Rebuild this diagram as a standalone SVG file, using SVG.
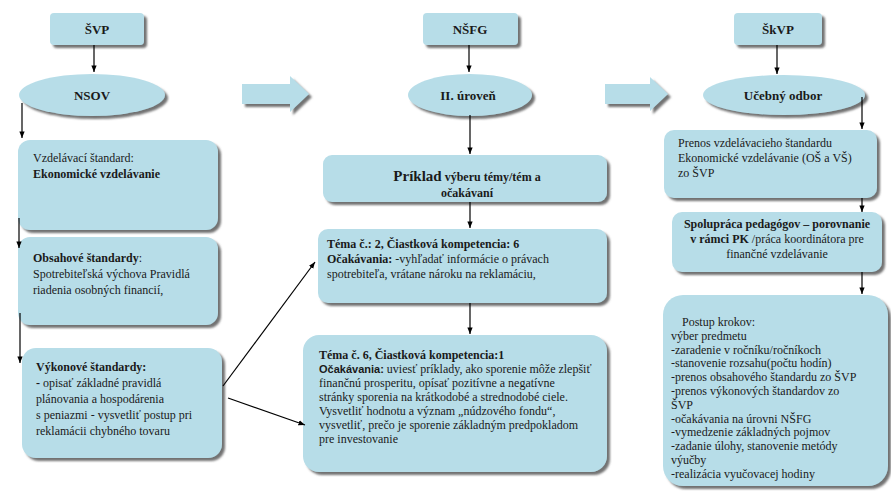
<svg xmlns="http://www.w3.org/2000/svg" width="891" height="494" viewBox="0 0 891 494">
<style>
.box{fill:#b7dde8;filter:url(#sh)}
.t{font-family:"Liberation Serif","Times New Roman",serif;font-size:12px;fill:#1a1a1a}
.h{font-family:"Liberation Serif","Times New Roman",serif;font-size:13px;font-weight:bold;fill:#1a1a1a}
.b{font-weight:bold}
.sb{font-family:"Liberation Sans",Arial,sans-serif;font-weight:bold;font-size:11px}
.c{stroke:#000;stroke-width:1.2;fill:none;marker-end:url(#ah)}
</style>
<defs>
<filter id="sh" x="-10%" y="-10%" width="130%" height="140%">
<feGaussianBlur in="SourceAlpha" stdDeviation="1"/>
<feOffset dx="3" dy="3" result="o"/>
<feFlood flood-color="#5a5a5a" flood-opacity="0.85"/>
<feComposite in2="o" operator="in"/>
<feMerge><feMergeNode/><feMergeNode in="SourceGraphic"/></feMerge>
</filter>
<marker id="ah" viewBox="0 0 10 10" refX="10" refY="5" markerWidth="5.5" markerHeight="5.5" orient="auto">
<path d="M0,1 L10,5 L0,9 z" fill="#000"/>
</marker>
</defs>
<rect width="891" height="494" fill="#fff"/>

<g id="arrow-big-1"><path class="box" d="M242,84 H290 V76 L309,94 L290,112 V104 H242 Z"/></g>
<g id="arrow-big-2"><path class="box" d="M605,84 H650 V77 L668,94 L650,111 V104 H605 Z"/></g>

<g id="svp"><rect class="box" x="50" y="13" width="94" height="32" rx="4"/><text class="h" x="97" y="34" text-anchor="middle">ŠVP</text></g>
<g id="nsov"><ellipse class="box" cx="92" cy="95" rx="73" ry="21"/><text class="h" x="92" y="100" text-anchor="middle">NSOV</text></g>
<g id="l1"><rect class="box" x="18" y="140" width="200" height="90" rx="12"/>
<text class="t" x="33" y="162">Vzdelávací štandard:</text>
<text class="t b" x="33" y="178">Ekonomické vzdelávanie</text></g>
<g id="l2"><rect class="box" x="18" y="237" width="200" height="88" rx="12"/>
<text class="t" x="33" y="262"><tspan class="b">Obsahové štandardy</tspan>:</text>
<text class="t" x="33" y="278">Spotrebiteľská výchova Pravidlá</text>
<text class="t" x="33" y="294">riadenia osobných financií,</text></g>
<g id="l3"><rect class="box" x="22" y="348" width="200" height="110" rx="14"/>
<text class="t b" x="36" y="371">Výkonové štandardy:</text>
<text class="t" x="36" y="387"><tspan class="b">-</tspan> opisať základné pravidlá</text>
<text class="t" x="36" y="403">plánovania a hospodárenia</text>
<text class="t" x="36" y="419">s peniazmi - vysvetliť postup pri</text>
<text class="t" x="36" y="435">reklamácii chybného tovaru</text></g>

<g id="nsfg"><rect class="box" x="423" y="13" width="95" height="32" rx="4"/><text class="h" x="470" y="34" text-anchor="middle">NŠFG</text></g>
<g id="uroven"><ellipse class="box" cx="470" cy="95" rx="62" ry="21"/><text class="h" x="468" y="100" text-anchor="middle">II. úroveň</text></g>
<g id="priklad"><rect class="box" x="323" y="155" width="284" height="47" rx="9"/>
<text class="t b" x="467" y="181" text-anchor="middle"><tspan font-size="15">Príklad</tspan> výberu témy/tém a</text>
<text class="t b" x="467" y="197" text-anchor="middle">očakávaní</text></g>
<g id="tema2"><rect class="box" x="318" y="229" width="289" height="74" rx="10"/>
<text class="t b" x="327" y="248">Téma č.: 2, Čiastková kompetencia: 6</text>
<text class="t" x="327" y="263"><tspan class="b">Očakávania:</tspan> -vyhľadať informácie o právach</text>
<text class="t" x="327" y="278">spotrebiteľa, vrátane nároku na reklamáciu,</text></g>
<g id="tema6"><rect class="box" x="303" y="335" width="304" height="137" rx="16"/>
<text class="t b" x="319" y="359">Téma č. 6, Čiastková kompetencia:1</text>
<text class="t" x="319" y="373"><tspan class="sb">Očakávania:</tspan> uviesť príklady, ako sporenie môže zlepšiť</text>
<text class="t" x="319" y="387">finančnú prosperitu, opísať pozitívne a negatívne</text>
<text class="t" x="319" y="401">stránky sporenia na krátkodobé a strednodobé ciele.</text>
<text class="t" x="319" y="415">Vysvetliť hodnotu a význam „núdzového fondu“,</text>
<text class="t" x="319" y="429">vysvetliť, prečo je sporenie základným predpokladom</text>
<text class="t" x="319" y="443">pre investovanie</text></g>

<g id="skvp"><rect class="box" x="734" y="13" width="88" height="32" rx="4"/><text class="h" x="778" y="34" text-anchor="middle">ŠkVP</text></g>
<g id="odbor"><ellipse class="box" cx="784" cy="95" rx="81" ry="20"/><text class="h" x="783" y="100" text-anchor="middle">Učebný odbor</text></g>
<g id="r1"><rect class="box" x="664" y="130" width="213" height="68" rx="10"/>
<text class="t" x="678" y="147">Prenos vzdelávacieho štandardu</text>
<text class="t" x="678" y="162">Ekonomické vzdelávanie (OŠ a VŠ)</text>
<text class="t" x="678" y="177">zo ŠVP</text></g>
<g id="r2"><rect class="box" x="672" y="212" width="210" height="60" rx="10"/>
<text class="t b" x="777" y="228" text-anchor="middle">Spolupráca pedagógov – porovnanie</text>
<text class="t" x="777" y="243" text-anchor="middle"><tspan class="b">v rámci PK</tspan> /práca koordinátora pre</text>
<text class="t" x="777" y="258" text-anchor="middle">finančné vzdelávanie</text></g>
<g id="r3"><rect class="box" x="663" y="295" width="225" height="191" rx="20"/>
<text class="t" x="682" y="326">Postup krokov:</text>
<text class="t" x="671" y="339.8">výber predmetu</text>
<text class="t" x="671" y="353.6">-zaradenie v ročníku/ročníkoch</text>
<text class="t" x="671" y="367.4">-stanovenie rozsahu(počtu hodín)</text>
<text class="t" x="671" y="381.2">-prenos obsahového štandardu zo ŠVP</text>
<text class="t" x="671" y="395">-prenos výkonových štandardov zo</text>
<text class="t" x="671" y="408.8">ŠVP</text>
<text class="t" x="671" y="422.6">-očakávania na úrovni NŠFG</text>
<text class="t" x="671" y="436.4">-vymedzenie základných pojmov</text>
<text class="t" x="671" y="450.2">-zadanie úlohy, stanovenie metódy</text>
<text class="t" x="671" y="464">výučby</text>
<text class="t" x="671" y="477.8">-realizácia vyučovacej hodiny</text></g>

<g id="connectors">
<path class="c" d="M94,45 V72"/>
<path class="c" d="M22,103 V138"/>
<path class="c" d="M19,218 V248"/>
<path class="c" d="M20,313 V363"/>
<path class="c" d="M223,386 L315,262"/>
<path class="c" d="M228,398 L305,425"/>
<path class="c" d="M469,45 V72"/>
<path class="c" d="M470,115 V154"/>
<path class="c" d="M470,202 V228"/>
<path class="c" d="M470,303 V334"/>
<path class="c" d="M777,45 V74"/>
<path class="c" d="M862,97 V129"/>
<path class="c" d="M862,198 V212"/>
<path class="c" d="M862,272 V294"/>
</g>
</svg>
